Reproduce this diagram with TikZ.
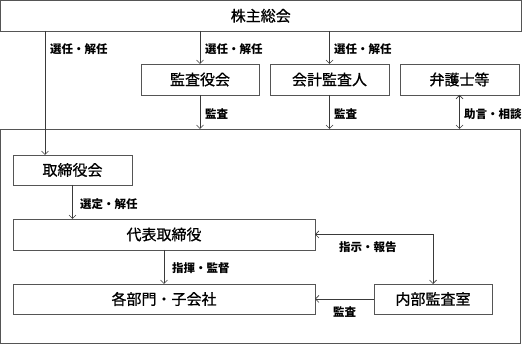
\documentclass[tikz,border=0pt]{standalone}
\usepackage{fontspec}
\setmainfont{Noto Sans CJK JP}
\newfontfamily\boxfont{Noto Sans CJK JP}[FakeBold=0.8]
\usetikzlibrary{arrows.meta}
\definecolor{boxline}{HTML}{555555}
\definecolor{arrline}{HTML}{3A3A3A}
\tikzset{
  orgbox/.style={draw=boxline,line width=0.8pt,inner sep=0pt,outer sep=0pt,
                 font=\boxfont\fontsize{15}{17}\selectfont,text=black},
  arr/.style={draw=arrline,line width=0.7pt,-{Straight Barb[length=3.5pt,width=7pt]}},
  biarr/.style={draw=arrline,line width=0.7pt,
                {Straight Barb[length=3.5pt,width=7pt]}-{Straight Barb[length=3.5pt,width=7pt]}},
  lbl/.style={anchor=west,inner sep=0pt,font=\bfseries\fontsize{11.5}{13}\selectfont}
}
\begin{document}
\begin{tikzpicture}[x=1pt,y=-1pt]
    \useasboundingbox (0,0) rectangle (528,344);
    \node[orgbox,minimum width=520.5pt,minimum height=30.5pt] (sokai) at (260.75,15.75) {株主総会};
    \node[orgbox,minimum width=519.5pt,minimum height=214pt] (kaisha) at (260.25,236) {};
    \node[orgbox,minimum width=118pt,minimum height=31pt] (kansayaku) at (200,79.5) {監査役会};
    \node[orgbox,minimum width=119pt,minimum height=31pt] (kaikei) at (329.5,79.5) {会計監査人};
    \node[orgbox,minimum width=119pt,minimum height=31pt] (bengoshi) at (459.5,79.5) {弁護士等};
    \node[orgbox,minimum width=119pt,minimum height=30pt] (torikai) at (72.5,170) {取締役会};
    \node[orgbox,minimum width=302pt,minimum height=31pt] (daihyo) at (164,234.5) {代表取締役};
    \node[orgbox,minimum width=302pt,minimum height=30pt] (bumon) at (164,299) {各部門・子会社};
    \node[orgbox,minimum width=118pt,minimum height=30pt] (naibu) at (433,299) {内部監査室};
    \draw[arr] (sokai.south -| 45,0) -- (torikai.north -| 45,0);
    \draw[arr] (sokai.south -| kansayaku.north) -- (kansayaku.north);
    \draw[arr] (sokai.south -| kaikei.north) -- (kaikei.north);
    \draw[arr] (kansayaku.south) -- (kaisha.north -| kansayaku.south);
    \draw[arr] (kaikei.south) -- (kaisha.north -| kaikei.south);
    \draw[biarr] (bengoshi.south) -- (kaisha.north -| bengoshi.south);
    \draw[arr] (torikai.south) -- (daihyo.north -| torikai.south);
    \draw[arr] (daihyo.south) -- (bumon.north);
    \draw[biarr] (daihyo.east) -| (naibu.north);
    \draw[arr] (naibu.west) -- (bumon.east);
    \node[lbl] (l1) at (50,49) {選任・解任};
    \node[lbl] (l2) at (205,49) {選任・解任};
    \node[lbl] (l3) at (334,49) {選任・解任};
    \node[lbl] (l4) at (205,114) {監査};
    \node[lbl] (l5) at (334,114) {監査};
    \node[lbl] (l6) at (464,114) {助言・相談};
    \node[lbl] (l7) at (80,204) {選定・解任};
    \node[lbl] (l8) at (172,268) {指揮・監督};
    \node[lbl] (l9) at (339,247) {指示・報告};
    \node[lbl] (l10) at (333,312) {監査};
\end{tikzpicture}
\end{document}
